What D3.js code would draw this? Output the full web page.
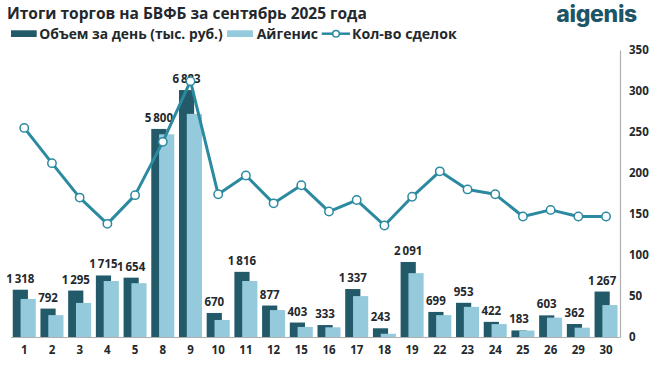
<!DOCTYPE html>
<html><head><meta charset="utf-8">
<script src="https://cdn.jsdelivr.net/npm/d3@7"></script>
<style>
html,body{margin:0;padding:0;background:#fff;}
svg{display:block;font-family:"Open Sans",sans-serif;}
</style></head>
<body><svg id="c" width="660" height="367"></svg>
<script>
const days = ["1","2","3","4","5","8","9","10","11","12","15","16","17","18","19","22","23","24","25","26","29","30"];
const volume = [1318,792,1295,1715,1654,5800,6883,670,1816,877,403,333,1337,243,2091,699,953,422,183,603,362,1267];
const aigenis = [1060,610,950,1560,1500,5650,6220,475,1560,750,280,270,1140,90,1780,610,840,360,180,540,260,890];
const deals = [255,212,170,138,173,238,312,174,197,163,185,153,167,136,171,202,180,174,147,155,147,147];
const rightTicks = [0,50,100,150,200,250,300,350];

(function(){
const cDark = "#225a69", cLight = "#94cadb", cLine = "#2b8aa0", cText = "#23282c";
const svg = d3.select("#c");
const base = 337, plotTop = 50;
const x = d3.scaleBand().domain(days).range([10.4, 619.9]).paddingInner(0.17).paddingOuter(0.085);
const yL = d3.scaleLinear().domain([0, 8000]).range([base, plotTop]);
const yR = d3.scaleLinear().domain([0, 350]).range([base, plotTop]);

svg.append("text").attr("x", 7).attr("y", 19).attr("font-size", 15.5).attr("font-weight", 700)
  .attr("fill", cText).text("Итоги торгов на БВФБ за сентябрь 2025 года");
svg.append("text").attr("x", 637).attr("y", 22).attr("text-anchor", "end").attr("font-size", 23)
  .attr("font-weight", 800).attr("fill", "#1d5568").attr("font-family", "Inter, sans-serif").attr("letter-spacing", -0.3).text("aigenis");

const lg = svg.append("g").attr("font-size", 13.5).attr("font-weight", 700).attr("fill", cText);
lg.append("rect").attr("x", 11).attr("y", 30.3).attr("width", 25.7).attr("height", 6.7).attr("fill", cDark);
lg.append("text").attr("x", 39.3).attr("y", 39).attr("textLength", 183.4).attr("lengthAdjust", "spacingAndGlyphs").text("Объем за день (тыс. руб.)");
lg.append("rect").attr("x", 227).attr("y", 30.3).attr("width", 26).attr("height", 6.7).attr("fill", cLight);
lg.append("text").attr("x", 256.7).attr("y", 39).attr("textLength", 61.3).attr("lengthAdjust", "spacingAndGlyphs").text("Айгенис");
lg.append("line").attr("x1", 321.7).attr("x2", 350).attr("y1", 33.7).attr("y2", 33.7).attr("stroke", cLine).attr("stroke-width", 2.5);
lg.append("circle").attr("cx", 336).attr("cy", 33.7).attr("r", 3.3).attr("fill", "#fff").attr("stroke", cLine).attr("stroke-width", 1.5);
lg.append("text").attr("x", 352).attr("y", 39).attr("textLength", 104.7).attr("lengthAdjust", "spacingAndGlyphs").text("Кол-во сделок");

const bw = x.bandwidth();
const barW = bw * 0.66, off = bw - barW;
const g = svg.append("g");
g.selectAll("rect.d").data(days).join("rect").attr("class", "d")
  .attr("x", d => x(d)).attr("width", barW)
  .attr("y", (d, i) => yL(volume[i])).attr("height", (d, i) => base - yL(volume[i])).attr("fill", cDark);
g.selectAll("rect.l").data(days).join("rect").attr("class", "l")
  .attr("x", d => x(d) + off).attr("width", barW)
  .attr("y", (d, i) => yL(aigenis[i])).attr("height", (d, i) => base - yL(aigenis[i])).attr("fill", cLight);

const fmt = v => d3.format(",")(v).replace(/,/g, "\u2009");
g.selectAll("text.v").data(days).join("text").attr("class", "v")
  .attr("x", d => x(d) + barW / 2).attr("y", (d, i) => yL(volume[i]) - 7)
  .attr("text-anchor", "middle").attr("font-size", 11.5).attr("font-weight", 700).attr("fill", cText)
  .text((d, i) => fmt(volume[i]));

const xAxis = svg.append("g").attr("transform", `translate(0,${base})`)
  .call(d3.axisBottom(x).tickSize(0).tickPadding(9));
xAxis.select(".domain").attr("stroke", "#b0b0b0").attr("stroke-width", 1.2);
xAxis.selectAll("text").attr("font-size", 11.5).attr("font-weight", 700).attr("fill", cText).attr("font-family", "Open Sans, sans-serif");

const rAxis = svg.append("g").attr("transform", `translate(620,0)`)
  .call(d3.axisRight(yR).tickValues(rightTicks).tickSize(0).tickPadding(9));
rAxis.select(".domain").attr("stroke", "#b0b0b0").attr("stroke-width", 1.2);
rAxis.selectAll("text").attr("font-size", 11.5).attr("font-weight", 700).attr("fill", cText).attr("font-family", "Open Sans, sans-serif");

const cx = d => x(d) + bw / 2;
svg.append("path").datum(days).attr("fill", "none").attr("stroke", cLine).attr("stroke-width", 3)
  .attr("stroke-linejoin", "round")
  .attr("d", d3.line().x(d => cx(d)).y((d, i) => yR(deals[i])));
svg.selectAll("circle.p").data(days).join("circle").attr("class", "p")
  .attr("cx", d => cx(d)).attr("cy", (d, i) => yR(deals[i])).attr("r", 4.2)
  .attr("fill", "#fff").attr("stroke", cLine).attr("stroke-width", 1.5);
})();
</script></body></html>
